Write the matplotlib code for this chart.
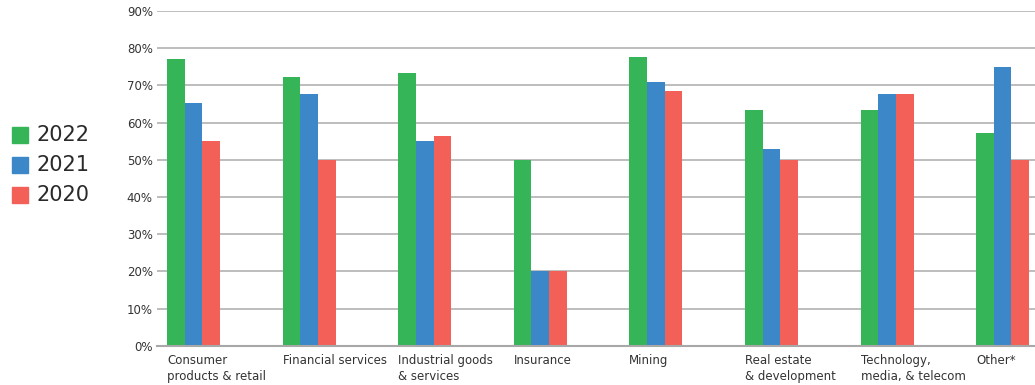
import matplotlib
matplotlib.use("Agg")
import matplotlib.pyplot as plt
import numpy as np
from matplotlib.patches import Rectangle

categories = [
    "Consumer\nproducts & retail",
    "Financial services",
    "Industrial goods\n& services",
    "Insurance",
    "Mining",
    "Real estate\n& development",
    "Technology,\nmedia, & telecom",
    "Other*",
]
series_names = ["2022", "2021", "2020"]
values_2022 = [77.0, 72.2, 73.3, 50.0, 77.6, 63.4, 63.4, 57.2]
values_2021 = [65.2, 67.7, 55.0, 20.0, 70.9, 52.9, 67.7, 75.0]
values_2020 = [55.0, 50.0, 56.4, 20.0, 68.5, 50.0, 67.7, 50.0]
y_ticks = [0, 10, 20, 30, 40, 50, 60, 70, 80, 90]

colors = ["#36b558", "#3b87c7", "#f26057"]
series = [values_2022, values_2021, values_2020]

W, H = 1035, 385
fig = plt.figure(figsize=(W / 100, H / 100), dpi=100)
ax = fig.add_axes([157 / W, 39.3 / H, 1 - 157 / W, (374 - 39.3) / H])

x = np.arange(len(categories))
bw = 0.153
for k, (vals, col) in enumerate(zip(series, colors)):
    ax.bar(x + (k - 1) * bw, vals, width=bw, color=col, zorder=3)

ax.set_xlim(-0.316, 7.28)
ax.set_ylim(0, 90)
ax.set_yticks(y_ticks)
ax.set_yticklabels([f"{t}%" for t in y_ticks])
ax.yaxis.grid(True, color="#b8b8b8", linewidth=1.3, zorder=0)
ax.tick_params(axis="y", length=0, pad=3, labelsize=8.5, labelcolor="#333333")
ax.tick_params(axis="x", length=0, labelbottom=False)
for s in ["left", "right", "top"]:
    ax.spines[s].set_visible(False)
ax.spines["bottom"].set_color("#a8a8a8")
ax.spines["bottom"].set_linewidth(1.5)
ax.spines["bottom"].set_zorder(4)

# category labels, left-aligned with each group's first bar
for i, lab in enumerate(categories):
    ax.text(i - 1.5 * bw, -2.2, lab, ha="left", va="top", fontsize=8.5,
            color="#333333", linespacing=1.3, transform=ax.transData)

# legend on the left
for j, (name, col) in enumerate(zip(series_names, colors)):
    yc = 135 + 30 * j
    fig.patches.append(Rectangle((12 / W, 1 - (yc + 8) / H), 16 / W, 16 / H,
                                 transform=fig.transFigure, color=col))
    fig.text(37 / W, 1 - yc / H, name, fontsize=15, color="#2a2a2a",
             ha="left", va="center")

fig.savefig("out.png", dpi=100)
